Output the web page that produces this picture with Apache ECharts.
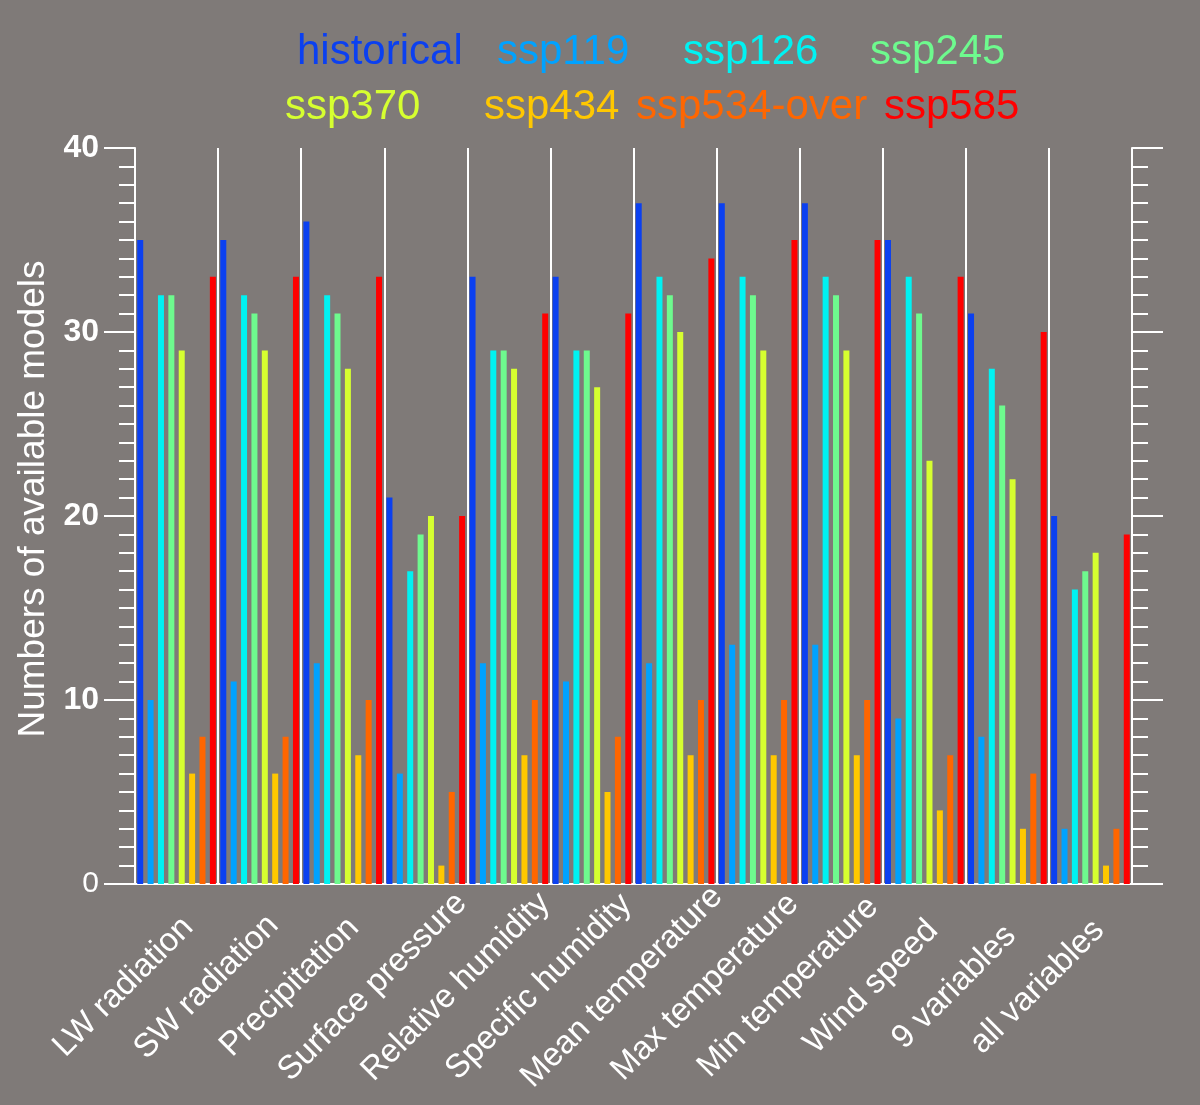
<!DOCTYPE html>
<html>
<head>
<meta charset="utf-8">
<script src="https://cdn.jsdelivr.net/npm/echarts@6/dist/echarts.min.js"></script>
<style>
html,body{margin:0;padding:0;background:#7f7a78;}
#chart{width:1200px;height:1105px;}
</style>
</head>
<body>
<div id="chart"></div>
<script>
const categories = ['LW radiation','SW radiation','Precipitation','Surface pressure','Relative humidity','Specific humidity','Mean temperature','Max temperature','Min temperature','Wind speed','9 variables','all variables'];
const seriesNames = ['historical','ssp119','ssp126','ssp245','ssp370','ssp434','ssp534-over','ssp585'];
const historical = [35,35,36,21,33,33,37,37,37,35,31,20];
const ssp119     = [10,11,12,6,12,11,12,13,13,9,8,3];
const ssp126     = [32,32,32,17,29,29,33,33,33,33,28,16];
const ssp245     = [32,31,31,19,29,29,32,32,32,31,26,17];
const ssp370     = [29,29,28,20,28,27,30,29,29,23,22,18];
const ssp434     = [6,6,7,1,7,5,7,7,7,4,3,1];
const ssp534over = [8,8,10,5,10,8,10,10,10,7,6,3];
const ssp585     = [33,33,33,20,31,31,34,35,35,33,30,19];
const yTicks = [0,10,20,30,40];

const values = [historical, ssp119, ssp126, ssp245, ssp370, ssp434, ssp534over, ssp585];
const colors = ['#0b40f0','#00a2ff','#00f2f2','#6efa8e','#d6ff30','#ffc800','#ff6600','#ff0000'];
const legendPos = [[297,31],[497,31],[683,31],[870,31],[285,86],[484,86],[636,86],[884,86]];
const FONT = '"Liberation Sans", Arial, Helvetica, sans-serif';

const chart = echarts.init(document.getElementById('chart'), null, {renderer:'canvas'});

const legends = seriesNames.map((n,i)=>({
  data:[n], left: legendPos[i][0]-5, top: legendPos[i][1], padding:0,
  icon:'none', itemWidth:0, itemHeight:42, itemGap:0, selectedMode:false,
  textStyle:{color:colors[i], fontSize:42, fontFamily:FONT}
}));

const yCommon = {
  type:'value', min:yTicks[0], max:yTicks[yTicks.length-1], interval:10,
  axisLine:{show:true, lineStyle:{color:'#ffffff', width:2}},
  axisTick:{show:true, inside:false, length:31, lineStyle:{color:'#ffffff', width:2}},
  minorTick:{show:true, splitNumber:10, length:16, lineStyle:{color:'#ffffff', width:2}},
  splitLine:{show:false}
};

const option = {
  backgroundColor:'#7f7a78',
  animation:false,
  textStyle:{fontFamily:FONT},
  legend: legends,
  grid:{left:135, right:68, top:148, bottom:221, containLabel:false, outerBoundsMode:'none'},
  xAxis:[
    {type:'category', data:categories, position:'bottom', boundaryGap:true,
     axisLine:{show:true, lineStyle:{color:'#141428', width:2}},
     axisTick:{show:false},
     splitLine:{show:true, interval:0, lineStyle:{color:'#ffffff', width:2}},
     axisLabel:{interval:0, rotate:45, margin:50, align:'center', verticalAlign:'middle',
       color:'#ffffff', fontSize:33, fontFamily:FONT, padding:[0,150,0,0]}
    },
    {type:'category', data:categories, position:'top', boundaryGap:true,
     axisLine:{show:true, lineStyle:{color:'#ffffff', width:2}},
     axisTick:{show:false}, axisLabel:{show:false}, splitLine:{show:false}}
  ],
  yAxis:[
    Object.assign({}, yCommon, {
      position:'left',
      name:'Numbers of available models', nameLocation:'middle', nameGap:82, nameRotate:90,
      nameTextStyle:{color:'#ffffff', fontSize:37, fontFamily:FONT, padding:[0,0,0,34]},
      axisLabel:{show:true, margin:36, color:'#ffffff', fontFamily:FONT,
        formatter:(v)=> v===0 ? '{n|0}' : '{b|'+v+'}',
        rich:{
          n:{color:'#ffffff', fontSize:30, fontWeight:'normal', fontFamily:FONT},
          b:{color:'#ffffff', fontSize:32, fontWeight:'bold', fontFamily:FONT}
        }}
    }),
    Object.assign({}, yCommon, {position:'right', axisLabel:{show:false}})
  ],
  series: seriesNames.map((n,i)=>({
    name:n, type:'bar', xAxisIndex:0, yAxisIndex:0,
    data: values[i], barWidth:6, barGap:'73%',
    itemStyle:{color:colors[i]}, silent:true, z:3
  }))
};
chart.setOption(option);
</script>
</body>
</html>
